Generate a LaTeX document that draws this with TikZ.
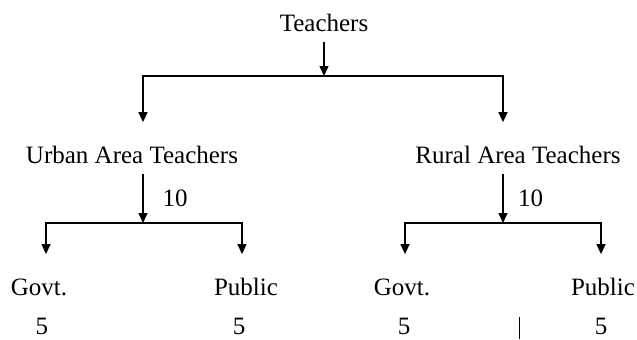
\documentclass[tikz,border=0pt]{standalone}
\usepackage{fontspec}
\setmainfont{Liberation Serif}
\usetikzlibrary{arrows.meta}

\begin{document}
\begin{tikzpicture}[x=0.5pt,y=-0.5pt,>={Triangle[length=5pt,width=4.5pt]},
 n/.style={inner xsep=0pt,inner ysep=5pt,text height=8.5pt,text depth=0pt,font=\fontsize{12.5}{15}\selectfont},
 num/.style={inner sep=0pt,font=\fontsize{12.5}{15}\selectfont},
 ar/.style={->,line width=0.65pt},
 arin/.style={ar,shorten >=7pt}]
 \useasboundingbox (0,0) rectangle (637,339);
 % levels
 \node[n] (teach) at (324,23) {Teachers};
 \node[n] (urban) at (132,155) {Urban Area Teachers};
 \node[n] (rural) at (518,155) {Rural Area Teachers};
 \node[n] (ugov) at (39,287) {Govt.};
 \node[n] (upub) at (246,287) {Public};
 \node[n] (rgov) at (402,287) {Govt.};
 \node[n] (rpub) at (603,287) {Public};
 \node[num] (ugovn) at (42,326) {5};
 \node[num] (upubn) at (239,326) {5};
 \node[num] (rgovn) at (404,326) {5};
 \node[num] (rpubn) at (601,326) {5};
 % split points
 \coordinate (tsplit) at (324,76);
 \coordinate (usplit) at (143,223);
 \coordinate (rsplit) at (503,223);
 \draw[ar] (teach) -- (tsplit);
 \draw[arin] (tsplit) -| ([xshift=5.5pt]urban.north);
 \draw[arin] (tsplit) -| ([xshift=-7.5pt]rural.north);
 \draw[ar] ([xshift=5.5pt]urban.south) -- node[num,right=9.5pt]{10} (usplit);
 \draw[ar] ([xshift=-7.5pt]rural.south) -- node[num,right=7.25pt]{10} (rsplit);
 \draw[arin] (usplit) -| ([xshift=3.5pt]ugov.north);
 \draw[arin] (usplit) -| ([xshift=-2pt]upub.north);
 \draw[arin] (rsplit) -| ([xshift=1.5pt]rgov.north);
 \draw[arin] (rsplit) -| ([xshift=-1pt]rpub.north);
 \draw[line width=0.5pt] (519,317) -- (519,339);
\end{tikzpicture}
\end{document}
